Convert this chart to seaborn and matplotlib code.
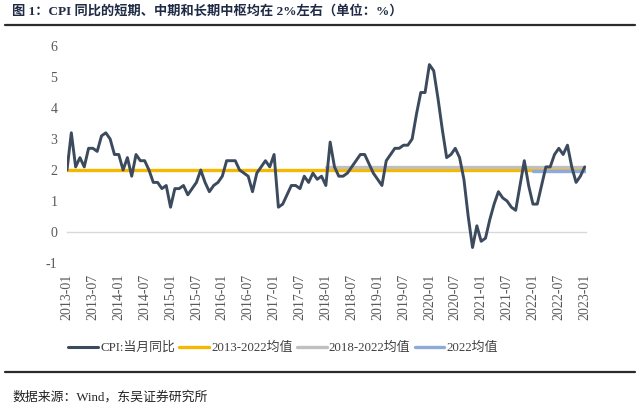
import matplotlib
matplotlib.use("Agg")
import matplotlib.pyplot as plt
from matplotlib.lines import Line2D
import seaborn as sns
import pandas as pd

# ---- data ----
months = [f"{y}-{m:02d}" for y in range(2013, 2023) for m in range(1, 13)] + ["2023-01"]
cpi = [
    2.0, 3.2, 2.1, 2.4, 2.1, 2.7, 2.7, 2.6, 3.1, 3.2, 3.0, 2.5,   # 2013
    2.5, 2.0, 2.4, 1.8, 2.5, 2.3, 2.3, 2.0, 1.6, 1.6, 1.4, 1.5,   # 2014
    0.8, 1.4, 1.4, 1.5, 1.2, 1.4, 1.6, 2.0, 1.6, 1.3, 1.5, 1.6,   # 2015
    1.8, 2.3, 2.3, 2.3, 2.0, 1.9, 1.8, 1.3, 1.9, 2.1, 2.3, 2.1,   # 2016
    2.5, 0.8, 0.9, 1.2, 1.5, 1.5, 1.4, 1.8, 1.6, 1.9, 1.7, 1.8,   # 2017
    1.5, 2.9, 2.1, 1.8, 1.8, 1.9, 2.1, 2.3, 2.5, 2.5, 2.2, 1.9,   # 2018
    1.7, 1.5, 2.3, 2.5, 2.7, 2.7, 2.8, 2.8, 3.0, 3.8, 4.5, 4.5,   # 2019
    5.4, 5.2, 4.3, 3.3, 2.4, 2.5, 2.7, 2.4, 1.7, 0.5, -0.5, 0.2,  # 2020
    -0.3, -0.2, 0.4, 0.9, 1.3, 1.1, 1.0, 0.8, 0.7, 1.5, 2.3, 1.5, # 2021
    0.9, 0.9, 1.5, 2.1, 2.1, 2.5, 2.7, 2.5, 2.8, 2.1, 1.6, 1.8,   # 2022
    2.1,                                                          # 2023
]
mean_labels = ["2013-2022均值", "2018-2022均值", "2022均值"]
mean_values = [2.00, 2.10, 1.97]
mean_starts = ["2013-01", "2018-01", "2022-01"]
mean_ends = ["2023-01", "2023-01", "2023-01"]
cpi_label = "CPI:当月同比"
yticks = [-1, 0, 1, 2, 3, 4, 5, 6]

colors = {"cpi": "#3c4a5e", "2013-2022均值": "#f5b800",
          "2018-2022均值": "#bfbfbf", "2022均值": "#8eaadb"}

sns.set_style("white")
LATIN_CJK = ["Liberation Serif", "Noto Sans CJK SC"]
plt.rcParams["font.family"] = LATIN_CJK
plt.rcParams["axes.unicode_minus"] = False

fig = plt.figure(figsize=(6.4, 4.13), dpi=100)
ax = fig.add_axes([67/640, 1-263/413, (586-67)/640, (263-46)/413])

df = pd.DataFrame({"idx": range(len(months)), "month": months, "cpi": cpi})
sns.lineplot(data=df, x="idx", y="cpi", ax=ax, color=colors["cpi"], lw=2.1,
             label=cpi_label, zorder=5, legend=False)
for lab, val, s, e, z in zip(mean_labels, mean_values, mean_starts, mean_ends, [3, 3.2, 3.1]):
    i0, i1 = months.index(s), months.index(e)
    mdf = pd.DataFrame({"idx": [i0, i1 + 0.2], "v": [val, val]})
    sns.lineplot(data=mdf, x="idx", y="v", ax=ax, color=colors[lab], lw=2.4,
                 label=lab, zorder=z, legend=False)

ax.set_xlim(0, 120.3)
ax.set_ylim(-1, 6)
ax.set_xlabel("")
ax.set_ylabel("")
for sp in ["top", "right", "left"]:
    ax.spines[sp].set_visible(False)
ax.spines["bottom"].set_position(("data", 0))
ax.spines["bottom"].set_color("#d9d9d9")
ax.spines["bottom"].set_linewidth(1.0)

ticks = list(range(0, len(months), 6))
ax.set_xticks(ticks)
ax.set_xticklabels([months[i] for i in ticks], rotation=90,
                   fontsize=10, color="#595959", family="Liberation Serif")
ax.tick_params(axis="x", direction="out", length=5, width=1, color="#d9d9d9", pad=25)
ax.set_yticks(yticks)
ax.set_yticklabels([str(v) for v in yticks], fontsize=10, color="#595959",
                   family="Liberation Serif")
ax.tick_params(axis="y", length=0, pad=7)
ax.grid(False)

handles = [Line2D([], [], color=colors["cpi"], lw=2.2)] + \
          [Line2D([], [], color=colors[l], lw=2.4) for l in mean_labels]
fig.legend(handles, [cpi_label] + mean_labels, loc="center", ncol=4,
           bbox_to_anchor=(283/640, 1-348/413), frameon=False, fontsize=9.3,
           handlelength=2.3, handletextpad=0.15, columnspacing=0.35,
           labelcolor="#404040")

fig.text(12/640, 1-11/413, "图 1：CPI 同比的短期、中期和长期中枢均在 2%左右（单位：%）",
         fontsize=9.5, fontweight="bold", color="#1f2a44", va="center", ha="left")
fig.add_artist(Line2D([5/640, 635/640], [1-25/413]*2, transform=fig.transFigure,
                      color="#2b2b2b", lw=1.6))
fig.add_artist(Line2D([5/640, 635/640], [1-372/413]*2, transform=fig.transFigure,
                      color="#2b2b2b", lw=1.6))
fig.text(12/640, 1-397/413, "数据来源：Wind，东吴证券研究所",
         fontsize=9.3, color="#222222", va="center", ha="left")

fig.savefig("out.png", dpi=100)
